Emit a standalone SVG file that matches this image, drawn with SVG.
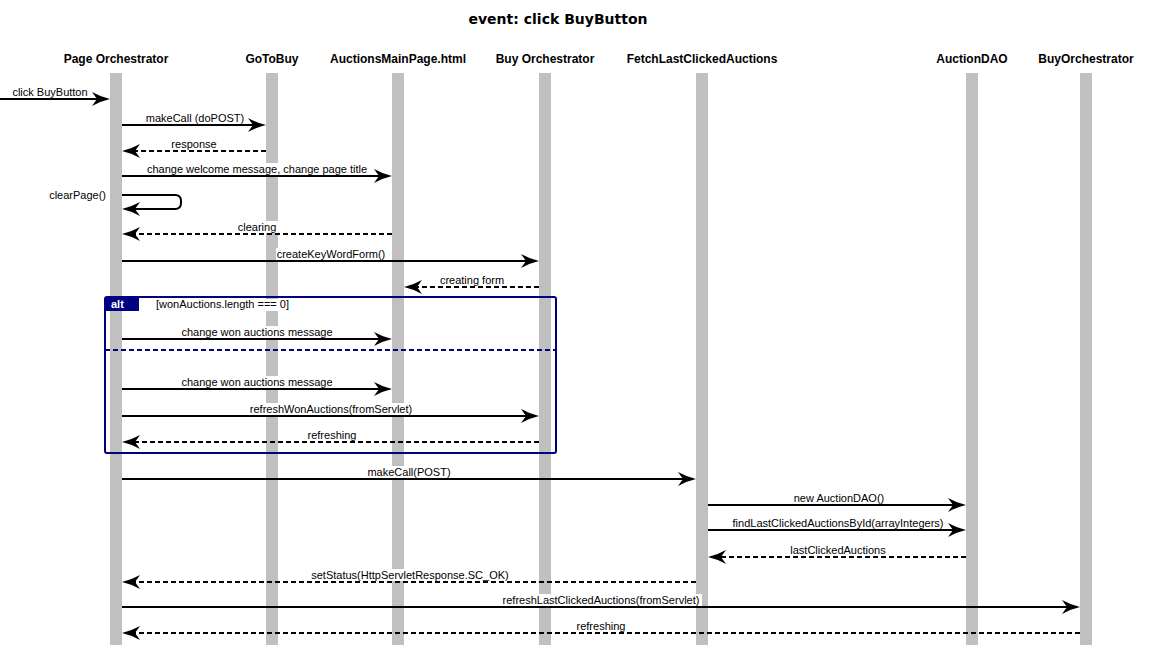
<svg xmlns="http://www.w3.org/2000/svg" width="1156" height="648" viewBox="0 0 1156 648">
<defs>
<style>
.title{font-family:"DejaVu Sans",sans-serif;font-weight:bold;font-size:14px;fill:#000}
.hdr{font-family:"Liberation Sans",Arial,sans-serif;font-weight:bold;font-size:12px;fill:#000;text-anchor:middle}
.lbl{font-family:"Liberation Sans",Arial,sans-serif;font-size:11px;fill:#000;text-anchor:middle}
.lbl-end{font-family:"Liberation Sans",Arial,sans-serif;font-size:11px;fill:#000;text-anchor:end}
.bar{fill:#c0c0c0}
.bg{fill:#fff}
.call{fill:none;stroke:#000;stroke-width:2;marker-end:url(#ah)}
.ret{fill:none;stroke:#000;stroke-width:2;stroke-dasharray:5,3;marker-end:url(#ah)}
.frame{fill:none;stroke:#000080;stroke-width:2}
.sep{stroke:#000080;stroke-width:2;stroke-dasharray:5,3}
</style>
<marker id="ah" markerUnits="userSpaceOnUse" markerWidth="20" markerHeight="16" refX="12" refY="7" orient="auto" overflow="visible">
<path d="M0,0 Q9,5 18,7 Q9,9 0,14 L5,7 Z" fill="#000"/>
</marker>
</defs>
<rect width="1156" height="648" fill="#fff"/>
<text class="title" x="558" y="24" text-anchor="middle">event: click BuyButton</text>

<g id="lifelines">
<g id="node-page-orchestrator"><text class="hdr" x="116" y="63">Page Orchestrator</text><rect class="bar" x="110" y="73" width="12" height="572"/></g>
<g id="node-gotobuy"><text class="hdr" x="272" y="63">GoToBuy</text><rect class="bar" x="266" y="73" width="12" height="572"/></g>
<g id="node-auctionsmainpage"><text class="hdr" x="398" y="63">AuctionsMainPage.html</text><rect class="bar" x="392" y="73" width="12" height="572"/></g>
<g id="node-buy-orchestrator"><text class="hdr" x="545" y="63">Buy Orchestrator</text><rect class="bar" x="539" y="73" width="12" height="572"/></g>
<g id="node-fetchlastclickedauctions"><text class="hdr" x="702" y="63">FetchLastClickedAuctions</text><rect class="bar" x="696" y="73" width="12" height="572"/></g>
<g id="node-auctiondao"><text class="hdr" x="972" y="63">AuctionDAO</text><rect class="bar" x="966" y="73" width="12" height="572"/></g>
<g id="node-buyorchestrator2"><text class="hdr" x="1086" y="63">BuyOrchestrator</text><rect class="bar" x="1080" y="73" width="12" height="572"/></g>
</g>

<g id="label-backgrounds">
<rect class="bg" x="10" y="86" width="81" height="12"/>
<rect class="bg" x="144" y="112" width="102" height="12"/>
<rect class="bg" x="171" y="138" width="47" height="12"/>
<rect class="bg" x="145" y="163" width="224" height="12"/>
<rect class="bg" x="236" y="221" width="42" height="12"/>
<rect class="bg" x="276" y="248" width="110" height="12"/>
<rect class="bg" x="439" y="274" width="67" height="12"/>
<rect class="bg" x="155" y="299" width="138" height="12"/>
<rect class="bg" x="180" y="326" width="154" height="12"/>
<rect class="bg" x="180" y="376" width="154" height="12"/>
<rect class="bg" x="249" y="403" width="165" height="12"/>
<rect class="bg" x="306" y="429" width="52" height="12"/>
<rect class="bg" x="366" y="466" width="87" height="12"/>
<rect class="bg" x="792" y="492" width="95" height="12"/>
<rect class="bg" x="729" y="517" width="218" height="12"/>
<rect class="bg" x="788" y="544" width="101" height="12"/>
<rect class="bg" x="307" y="569" width="206" height="12"/>
<rect class="bg" x="500" y="594" width="202" height="12"/>
<rect class="bg" x="576" y="620" width="51" height="12"/>
</g>

<g id="fragment-alt">
<rect class="frame" x="105" y="297" width="451" height="156" rx="2"/>
<rect x="105" y="297" width="34" height="14" fill="#000080"/>
<text x="111" y="308" font-family="Liberation Sans, Arial, sans-serif" font-size="11" font-weight="bold" fill="#fff">alt</text>
<text x="156" y="308" font-family="Liberation Sans, Arial, sans-serif" font-size="11" fill="#000">[wonAuctions.length === 0]</text>
<line class="sep" x1="105" y1="350" x2="556" y2="350"/>
</g>

<g id="connectors">
<path class="call" d="M0,99 H104"/>
<path class="call" d="M122,125 H260"/>
<path class="ret" d="M266,151 H128"/>
<path class="call" d="M122,176 H386"/>
<path class="call" d="M122,195 H175 Q181,195 181,201 V203 Q181,209 175,209 H128"/>
<path class="ret" d="M392,234 H128"/>
<path class="call" d="M122,261 H533"/>
<path class="ret" d="M539,287 H410"/>
<path class="call" d="M122,339 H386"/>
<path class="call" d="M122,389 H386"/>
<path class="call" d="M122,416 H533"/>
<path class="ret" d="M539,442 H128"/>
<path class="call" d="M122,479 H690"/>
<path class="call" d="M708,505 H960"/>
<path class="call" d="M708,530 H960"/>
<path class="ret" d="M966,557 H714"/>
<path class="ret" d="M696,582 H128"/>
<path class="call" d="M122,607 H1074"/>
<path class="ret" d="M1080,633 H128"/>
</g>

<g id="connector-labels">
<text class="lbl" x="50" y="96">click BuyButton</text>
<text class="lbl" x="195" y="122">makeCall (doPOST)</text>
<text class="lbl" x="194" y="148">response</text>
<text class="lbl" x="257" y="173">change welcome message, change page title</text>
<text class="lbl-end" x="106" y="199">clearPage()</text>
<text class="lbl" x="257" y="231">clearing</text>
<text class="lbl" x="331" y="258">createKeyWordForm()</text>
<text class="lbl" x="472" y="284">creating form</text>
<text class="lbl" x="257" y="336">change won auctions message</text>
<text class="lbl" x="257" y="386">change won auctions message</text>
<text class="lbl" x="331" y="413">refreshWonAuctions(fromServlet)</text>
<text class="lbl" x="332" y="439">refreshing</text>
<text class="lbl" x="409" y="476">makeCall(POST)</text>
<text class="lbl" x="839" y="502">new AuctionDAO()</text>
<text class="lbl" x="838" y="527">findLastClickedAuctionsById(arrayIntegers)</text>
<text class="lbl" x="838" y="554">lastClickedAuctions</text>
<text class="lbl" x="410" y="579">setStatus(HttpServletResponse.SC_OK)</text>
<text class="lbl" x="601" y="604">refreshLastClickedAuctions(fromServlet)</text>
<text class="lbl" x="601" y="630">refreshing</text>
</g>
</svg>
